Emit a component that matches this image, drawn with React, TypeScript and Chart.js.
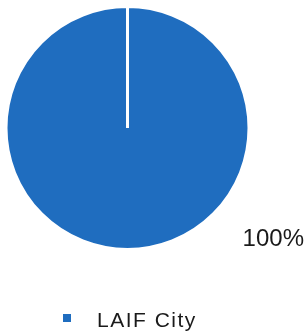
import React, { useEffect, useRef } from "react";
import { Chart, registerables } from "chart.js";

Chart.register(...registerables);

const categories = ["LAIF City"];
const values = [100];
const percentLabels = ["100%"];
const colors = ["#1f6dbf"];

const labelPlugin = {
  id: "customLabels",
  afterDraw(chart: any) {
    const ctx = chart.ctx;
    const meta = chart.getDatasetMeta(0);
    const arc = meta.data[0];
    if (!arc) return;
    const { x, y, outerRadius } = arc.getProps(["x", "y", "outerRadius"], true);
    ctx.save();
    // percentage label
    ctx.fillStyle = "#1a1a1a";
    ctx.font = "24px 'Liberation Sans', Arial, sans-serif";
    ctx.textAlign = "center";
    ctx.textBaseline = "alphabetic";
    ctx.fillText(percentLabels[0], x + outerRadius * 1.2, y + outerRadius * 0.97);
    // legend
    const lx = 63;
    const ly = 314;
    ctx.fillStyle = colors[0];
    ctx.fillRect(lx, ly, 8, 8);
    ctx.fillStyle = "#1a1a1a";
    ctx.font = "21px 'Liberation Sans', Arial, sans-serif";
    ctx.textAlign = "left";
    (ctx as any).letterSpacing = "1.5px";
    ctx.fillText(categories[0], 97, 327);
    ctx.restore();
  },
};

export default function App() {
  const ref = useRef<HTMLCanvasElement | null>(null);
  useEffect(() => {
    if (!ref.current) return;
    const chart = new Chart(ref.current, {
      type: "pie",
      data: {
        labels: categories,
        datasets: [
          {
            data: values,
            backgroundColor: colors,
            borderColor: "#ffffff",
            borderWidth: 3,
          },
        ],
      },
      options: {
        responsive: false,
        animation: false,
        layout: { padding: { left: 4.5, right: 53.5, top: 5, bottom: 82 } },
        plugins: {
          legend: { display: false },
          tooltip: { enabled: false },
        },
      },
      plugins: [labelPlugin],
    });
    return () => chart.destroy();
  }, []);
  return (
    <div style={{ position: "fixed", left: 0, top: 0, width: 304, height: 333, background: "#fff" }}>
      <canvas ref={ref} width={304} height={333} style={{ display: "block", width: 304, height: 333 }} />
    </div>
  );
}
